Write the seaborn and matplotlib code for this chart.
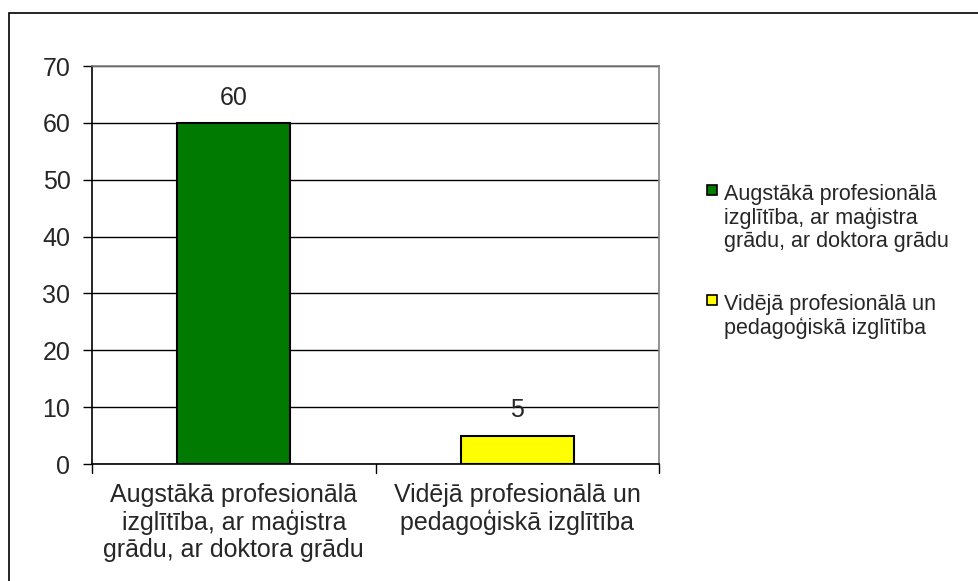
import matplotlib
matplotlib.use('Agg')
import matplotlib.pyplot as plt
import seaborn as sns
import pandas as pd
from matplotlib.patches import Rectangle

categories = ['Augstākā profesionālā\nizglītība, ar maģistra\ngrādu, ar doktora grādu',
              'Vidējā profesionālā un\npedagoģiskā izglītība']
values = [60, 5]
colors = ['#007A00', '#FFFF00']
y_ticks = [0, 10, 20, 30, 40, 50, 60, 70]

df = pd.DataFrame({'category': categories, 'value': values})

sns.set_style('white')
plt.rcParams['font.family'] = ['Liberation Sans', 'DejaVu Sans']

fig = plt.figure(figsize=(9.79, 5.81), dpi=100)
ax = fig.add_axes([92 / 979, 1 - 464 / 581, (659 - 92) / 979, (464 - 66) / 581])

sns.barplot(data=df, x='category', y='value', hue='category', palette=colors,
            saturation=1, width=0.40, edgecolor='black', linewidth=1.5, ax=ax,
            legend=False, zorder=3)

ax.set_ylim(0, 70)
ax.set_xlim(-0.5, 1.5)
ax.set_yticks(y_ticks)
ax.set_yticklabels([str(t) for t in y_ticks], fontsize=18)
ax.set_xlabel('')
ax.set_ylabel('')
ax.yaxis.grid(True, color='black', linewidth=1, zorder=0)
ax.set_axisbelow(True)

# category labels, ticks drawn at the category boundaries
ax.set_xticks([0, 1])
ax.set_xticklabels(categories, fontsize=18, linespacing=1.12)
ax.tick_params(axis='x', length=0, pad=14)
ax.tick_params(axis='y', length=6.5, width=1, color='black', direction='out',
               left=True, pad=9)
for xb in [-0.5, 0.5, 1.5]:
    ax.plot([xb, xb], [0, -1.6], color='black', lw=1, clip_on=False)

for s in ['left', 'bottom']:
    ax.spines[s].set_color('black')
    ax.spines[s].set_linewidth(1.2)
for s in ['top', 'right']:
    ax.spines[s].set_color('#808080')
    ax.spines[s].set_linewidth(1.2)

for i, v in enumerate(values):
    ax.text(i, v + 2.3, str(v), ha='center', va='bottom', fontsize=18)

# legend: marker square aligned with the first text line
leg_labels = ['Augstākā profesionālā\nizglītība, ar maģistra\ngrādu, ar doktora grādu',
              'Vidējā profesionālā un\npedagoģiskā izglītība']
leg_tops = [183, 293]
for c, lab, top in zip(colors, leg_labels, leg_tops):
    fig.patches.append(Rectangle((707 / 979, 1 - (top + 12) / 581), 10 / 979, 10 / 581,
                                 transform=fig.transFigure, facecolor=c,
                                 edgecolor='black', lw=1.2))
    fig.text(724 / 979, 1 - (top + 1) / 581, lab, ha='left', va='top',
             fontsize=15.5, linespacing=1.13)

# outer chart border
fig.patches.append(Rectangle((9 / 979, -0.1), 1.2, 1 - 13 / 581 + 0.1,
                             transform=fig.transFigure, fill=False,
                             edgecolor='black', lw=1.2))

fig.savefig('out.png', dpi=100)
